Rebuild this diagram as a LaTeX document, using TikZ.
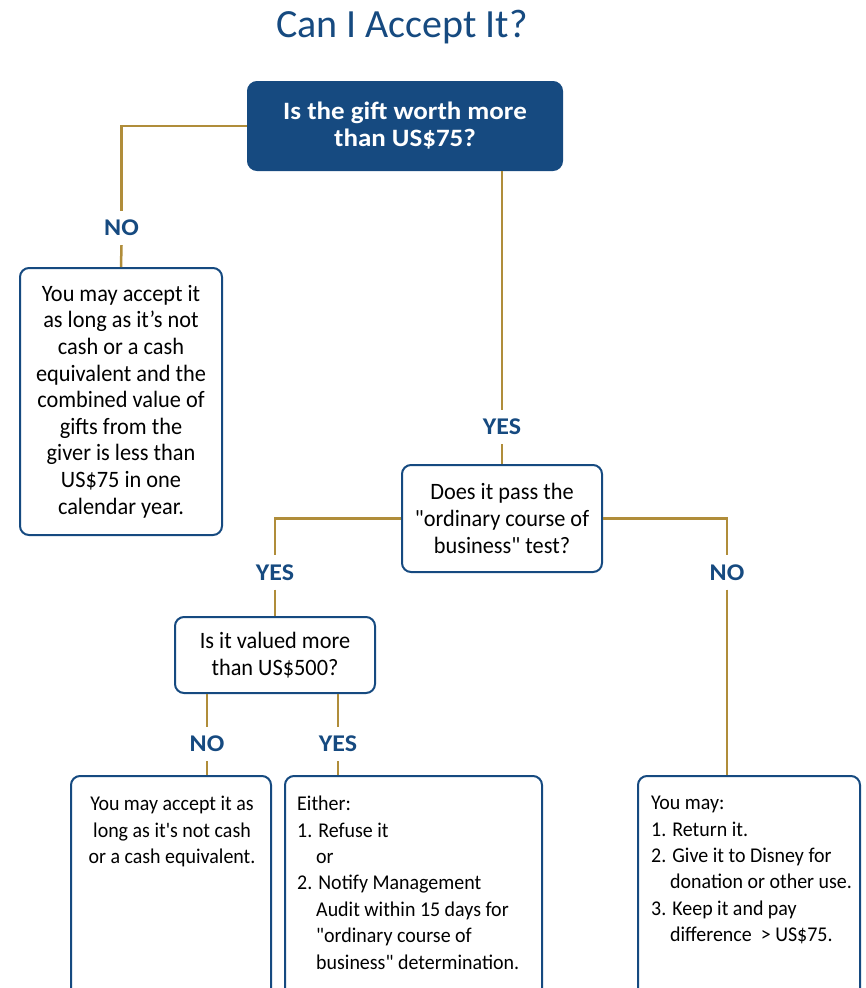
\documentclass[tikz,border=0pt]{standalone}
\usepackage{fontspec}
\setmainfont{Carlito}[Ligatures=TeXOff, BoldFeatures={FakeStretch=1.08}]
\newfontfamily\boxfont{Carlito}[FakeStretch=0.95, Ligatures=TeXOff]
\usetikzlibrary{positioning}
\definecolor{giftblue}{HTML}{164A80}
\definecolor{giftgold}{HTML}{B08D3A}
\newcommand{\hangstep}{\hspace*{19pt}}
\tikzset{
  qbox/.style={draw=giftblue, line width=2pt, rounded corners=9pt, fill=white, align=center, inner sep=0pt, font=\boxfont\fontsize{23.5}{26.6}\selectfont},
  topbox/.style={qbox, fill=giftblue, text=white, font=\bfseries\fontsize{25}{27}\selectfont},
  ansbox/.style={qbox, anchor=north, minimum height=240},
  anstext/.style={inner sep=0pt, anchor=north, font=\boxfont\fontsize{21}{26.4}\selectfont},
  answer/.style={text=giftblue, font=\bfseries\fontsize{24}{24}\selectfont, inner sep=0pt, minimum height=34},
  link/.style={draw=giftgold, line width=2.5pt}
}
\begin{document}
\begin{tikzpicture}[x=1pt, y=-1pt]
\useasboundingbox (0,0) rectangle (865,988);
\clip (0,0) rectangle (865,988);
% title
\node[anchor=base, text=giftblue, font=\fontsize{40}{42}\selectfont, inner sep=0pt] (title) at (402,37) {Can I Accept It?};
% questions
\node[topbox, minimum width=314, minimum height=88] (q1) at (405,126) {Is the gift worth more\\than US\$75?};
\node[qbox, minimum width=200, minimum height=107] (q2) at (502,518.5) {Does it pass the\\"ordinary course of\\business" test?};
\node[qbox, minimum width=200, minimum height=76] (q3) at (275,655) {Is it valued more\\than US\$500?};
% answers
\node[qbox, minimum width=202, minimum height=267] (a1) at (121,401.5) {You may accept it\\as long as it’s not\\cash or a cash\\equivalent and the\\combined value of\\gifts from the\\giver is less than\\US\$75 in one\\calendar year.};
\node[ansbox, minimum width=222] (a3) at (749,775) {};
\node[ansbox, minimum width=200] (a4) at (171,775) {};
\node[ansbox, minimum width=257] (a5) at (413.5,775) {};
\node[anstext, align=center] (t4) at (172,796) {You may accept it as\\long as it's not cash\\or a cash equivalent.};
\node[anstext, anchor=north west, align=left] (t5) at (297,796) {Either:\\1. Refuse it\\\hangstep or\\2. Notify Management\\\hangstep Audit within 15 days for\\\hangstep "ordinary course of\\\hangstep business" determination.};
\node[anstext, anchor=north west, align=left] (t3) at (651,796) {You may:\\1. Return it.\\2. Give it to Disney for\\\hangstep donation or other use.\\3. Keep it and pay\\\hangstep difference \ > US\$75.};
% yes / no
\node[answer] (n1) at (121.5,228) {NO};
\node[answer] (y1) at (502,427) {YES};
\node[answer] (y2) at (275,572.5) {YES};
\node[answer] (n2) at (727,572.5) {NO};
\node[answer] (n3) at (207,744) {NO};
\node[answer] (y3) at (338,744) {YES};
% links
\draw[link] (q1.west) -| (n1.north);
\draw[link] (n1.south) -- (a1.north);
\draw[link] (q1.south -| y1) -- (y1.north);
\draw[link] (y1.south) -- (q2.north);
\draw[link] (q2.west) -| (y2.north);
\draw[link] (y2.south) -- (q3.north);
\draw[link] (q2.east) -| (n2.north);
\draw[link] (n2.south) -- (n2.south |- a3.north);
\draw[link] (q3.south -| n3) -- (n3.north);
\draw[link] (n3.south) -- (n3.south |- a4.north);
\draw[link] (q3.south -| y3) -- (y3.north);
\draw[link] (y3.south) -- (y3.south |- a5.north);
\end{tikzpicture}
\end{document}
